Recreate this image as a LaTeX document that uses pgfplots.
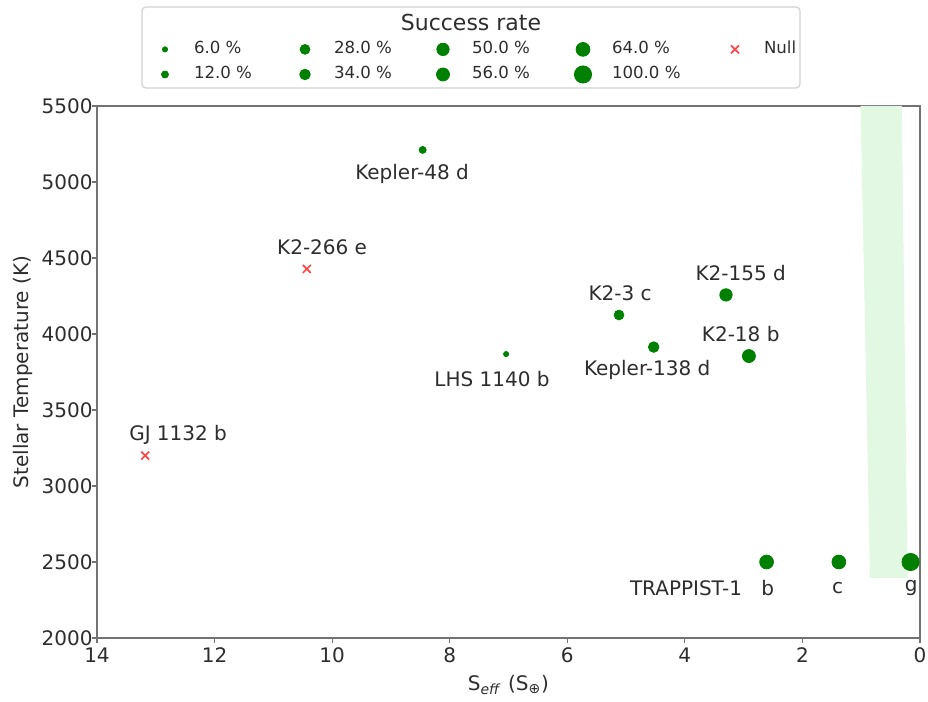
\documentclass[border=0pt]{standalone}
\usepackage{pgfplots}
\pgfplotsset{compat=1.18}
\usepackage{fontspec}
\setmainfont{DejaVu Sans}
\definecolor{mgreen}{RGB}{0,128,0}
\definecolor{band}{RGB}{226,248,226}
\definecolor{txt}{RGB}{45,45,45}
\definecolor{nullred}{RGB}{255,70,70}
\begin{document}
\begin{tikzpicture}
\useasboundingbox (-48.5pt,-32pt) rectangle (415.5pt,319pt);
\begin{axis}[
  at={(0,0)}, anchor=south west,
  scale only axis, width=411.5pt, height=266pt,
  xmin=0, xmax=14, ymin=2000, ymax=5500, x dir=reverse,
  xtick={0,2,...,14}, ytick={2000,2500,...,5500},
  tick align=outside, major tick length=2.5pt,
  axis line style={black!55, line width=0.6pt},
  tick style={black!55, line width=0.6pt},
  xtick pos=bottom, ytick pos=left,
  ticklabel style={font=\fontsize{10}{12}\selectfont, text=txt},
  yticklabel style={xshift=3.8pt},
  xticklabel style={yshift=1pt},
  /pgf/number format/assume math mode=true,
  /pgf/number format/1000 sep={},
  xlabel={S\textsubscript{\textit{eff}} (S\textsubscript{⊕})},
  ylabel={Stellar Temperature (K)},
  label style={font=\fontsize{10}{12}\selectfont, text=txt},
  xlabel style={at={(axis description cs:0.5,-0.0883)}, anchor=center},
  ylabel style={at={(axis description cs:-0.0895,0.5)}, anchor=center},
  legend columns=5,
  legend image code/.code={\path[draw=none,fill=none] (-5pt,-3.75pt) rectangle (5pt,3.75pt); \draw[#1] plot coordinates {(0pt,0pt)};},
  legend style={at={(axis description cs:0.0705,1.0818)}, anchor=west,
    draw=none, fill=none, font=\fontsize{8.3}{9}\selectfont, text=txt,
    inner sep=0pt, outer sep=0pt, column sep=0pt, row sep=4.5pt,
    nodes={inner sep=0pt, outer sep=0pt, text height=6pt, text depth=1.5pt}},
  legend cell align=left,
]
% habitable zone band
\addplot[fill=band, draw=none, forget plot] coordinates {(1.01,5500) (0.31,5500) (0.21,2395) (0.85,2395)} -- cycle;

% planets (x = S_eff, y = T_star), marker radius ~ sqrt(success rate)
\addplot[only marks, mark=*, color=mgreen, mark size=1.3pt, forget plot] coordinates {(7.04,3868)}; % LHS 1140 b 6%
\addplot[only marks, mark=*, color=mgreen, mark size=1.75pt, forget plot] coordinates {(8.46,5211)}; % Kepler-48 d 12%
\addplot[only marks, mark=*, color=mgreen, mark size=2.45pt, forget plot] coordinates {(5.12,4125)}; % K2-3 c 28%
\addplot[only marks, mark=*, color=mgreen, mark size=2.65pt, forget plot] coordinates {(4.53,3914)}; % Kepler-138 d 34%
\addplot[only marks, mark=*, color=mgreen, mark size=3.1pt, forget plot] coordinates {(3.30,4257)}; % K2-155 d 50%
\addplot[only marks, mark=*, color=mgreen, mark size=3.25pt, forget plot] coordinates {(2.91,3855)}; % K2-18 b 56%
\addplot[only marks, mark=*, color=mgreen, mark size=3.45pt, forget plot] coordinates {(2.61,2500) (1.38,2500)}; % TRAPPIST-1 b, c 64%
\addplot[only marks, mark=*, color=mgreen, mark size=4.3pt, forget plot] coordinates {(0.16,2500)}; % TRAPPIST-1 g 100%
\addplot[only marks, mark=x, color=nullred, mark size=2.8pt, mark options={line width=0.85pt}, forget plot] coordinates {(10.43,4428) (13.18,3200)}; % Null

% labels
\begin{scope}[every node/.style={font=\fontsize{10}{12}\selectfont, text=txt, anchor=center, inner sep=0pt}]
\node at (axis cs:8.64,5053) {Kepler-48 d};
\node at (axis cs:10.17,4572) {K2-266 e};
\node at (axis cs:12.62,3336) {GJ 1132 b};
\node at (axis cs:7.28,3704) {LHS 1140 b};
\node at (axis cs:5.10,4270) {K2-3 c};
\node at (axis cs:4.64,3763) {Kepler-138 d};
\node at (axis cs:3.05,4401) {K2-155 d};
\node at (axis cs:3.05,4000) {K2-18 b};
\node at (axis cs:3.98,2329) {TRAPPIST-1};
\node at (axis cs:2.59,2329) {b};
\node at (axis cs:1.40,2329) {c};
\node at (axis cs:0.15,2329) {g};
\end{scope}

% legend (row-wise order: 6, 28, 50, 64, Null / 12, 34, 56, 100)
\addlegendimage{only marks, mark=*, color=mgreen, mark size=1.3pt}
\addlegendentry{\makebox[60pt][l]{\hspace{9.5pt}6.0 \%}}
\addlegendimage{only marks, mark=*, color=mgreen, mark size=2.45pt}
\addlegendentry{\makebox[59pt][l]{\hspace{9.5pt}28.0 \%}}
\addlegendimage{only marks, mark=*, color=mgreen, mark size=3.1pt}
\addlegendentry{\makebox[60pt][l]{\hspace{9.5pt}50.0 \%}}
\addlegendimage{only marks, mark=*, color=mgreen, mark size=3.45pt}
\addlegendentry{\makebox[66pt][l]{\hspace{9.5pt}64.0 \%}}
\addlegendimage{only marks, mark=x, color=nullred, mark size=2.8pt, mark options={line width=0.85pt}}
\addlegendentry{\makebox[30pt][l]{\hspace{9.5pt}Null}}
\addlegendimage{only marks, mark=*, color=mgreen, mark size=1.75pt}
\addlegendentry{\makebox[60pt][l]{\hspace{9.5pt}12.0 \%}}
\addlegendimage{only marks, mark=*, color=mgreen, mark size=2.65pt}
\addlegendentry{\makebox[59pt][l]{\hspace{9.5pt}34.0 \%}}
\addlegendimage{only marks, mark=*, color=mgreen, mark size=3.25pt}
\addlegendentry{\makebox[60pt][l]{\hspace{9.5pt}56.0 \%}}
\addlegendimage{only marks, mark=*, color=mgreen, mark size=4.3pt}
\addlegendentry{\makebox[66pt][l]{\hspace{9.5pt}100.0 \%}}
\end{axis}
% legend frame and title
\draw[black!18, line width=0.6pt, rounded corners=2pt] (22.5pt,275pt) rectangle (351.5pt,315.5pt);
\node[font=\fontsize{11}{13}\selectfont, text=txt, anchor=center, inner sep=0pt] at (187pt,308pt) {Success rate};
\end{tikzpicture}
\end{document}
